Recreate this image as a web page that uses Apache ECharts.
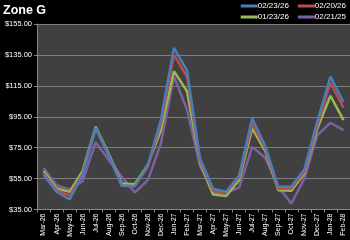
<!DOCTYPE html>
<html><head><meta charset="utf-8">
<script src="https://cdn.jsdelivr.net/npm/echarts@6/dist/echarts.min.js"></script>
<style>html,body{margin:0;padding:0;background:#000;}#c{width:350px;height:240px;}</style>
</head><body><div id="c"></div>
<script>
const categories = ["Mar-26","Apr-26","May-26","Jun-26","Jul-26","Aug-26","Sep-26","Oct-26","Nov-26","Dec-26","Jan-27","Feb-27","Mar-27","Apr-27","May-27","Jun-27","Jul-27","Aug-27","Sep-27","Oct-27","Nov-27","Dec-27","Jan-28","Feb-28"];
const s022326 = [57.5,46.5,41.5,57.5,87.5,70,50.5,50,63.5,93,139.5,125,68,48.5,46.5,57,94,76,49.7,49.7,61,92,121,104.5];
const s022026 = [58.5,47.5,44,58,87.5,70,50.3,50.1,62.5,90.5,135,121,66.5,47.2,46,56,90.5,74.5,48.5,48.6,59.5,89.5,117,100.8];
const s012326 = [59.8,48.6,46.4,60,88.5,71,51.8,51.4,64,86.3,124.5,111.5,65.5,44.7,43.8,54,87.5,73,47.5,47.1,58.3,87.5,108.6,92.8];
const s022125 = [61.8,50.7,47.9,53.3,78.5,67,56.1,46,54,77.7,121,99.5,63.5,45.8,45.8,49.2,75.5,68.5,49.7,38.9,55,83.1,91.1,86.3];
const yTicks = [35,55,75,95,115,135,155];
const names = ["02/23/26","02/20/26","01/23/26","02/21/25"];
const colors = ["#4A7EBB","#BE4B48","#98B954","#7D60A0"];
const data = [s022326,s022026,s012326,s022125];

const legendBase = {
  right:4, itemGap:9, itemWidth:17, itemHeight:3, padding:0,
  icon:'rect',
  textStyle:{color:'#fff',fontSize:8,fontFamily:'Liberation Sans',padding:[0,0,0,-5]}
};
const chart = echarts.init(document.getElementById('c'));
chart.setOption({
  backgroundColor:'#000',
  animation:false,
  title:{text:'Zone G',left:3,top:4,padding:0,textStyle:{color:'#fff',fontSize:12.5,fontWeight:'bold',fontFamily:'Liberation Sans'}},
  legend:[
    Object.assign({}, legendBase, {top:2, data:[names[0],names[1]]}),
    Object.assign({}, legendBase, {top:13, data:[names[2],names[3]]})
  ],
  grid:{left:37,right:0,top:24,bottom:30.5,show:true,backgroundColor:'#404040',borderWidth:0},
  xAxis:{
    type:'category',data:categories,boundaryGap:true,
    axisLine:{lineStyle:{color:'#888'}},
    axisTick:{show:true,length:3,lineStyle:{color:'#888'}},
    axisLabel:{color:'#fff',fontSize:7,rotate:90,margin:4,interval:0,fontFamily:'Liberation Sans'}
  },
  yAxis:{
    type:'value',min:yTicks[0],max:yTicks[yTicks.length-1],interval:20,
    axisLine:{show:true,lineStyle:{color:'#888'}},
    axisTick:{show:true,length:3,lineStyle:{color:'#888'}},
    splitLine:{lineStyle:{color:'#7f7f7f',width:1}},
    axisLabel:{color:'#fff',fontSize:7.5,margin:5,fontFamily:'Liberation Sans',formatter:v=>'$'+v.toFixed(2)}
  },
  series:data.map((d,i)=>({
    name:names[i],type:'line',data:d,symbol:'none',
    lineStyle:{color:colors[i],width:2.5},itemStyle:{color:colors[i]},z:10-i
  }))
});
</script></body></html>
